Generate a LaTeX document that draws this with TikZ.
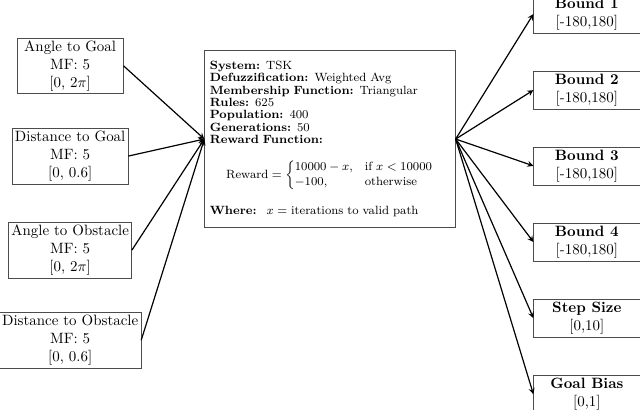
\documentclass[tikz,border=0pt]{standalone}
\usepackage{fix-cm}
\usepackage{amsmath}
\usepackage{tikz}
\usetikzlibrary{arrows}

\begin{document}
\begin{tikzpicture}[
    inbox/.style={draw=black!70, align=center, inner sep=1.8pt, minimum width=2.5cm},
    outbox/.style={draw=black!70, align=center, minimum width=2.5cm, inner sep=2pt},
    link/.style={->, >=stealth, thick}]
    \useasboundingbox (0,0) rectangle (15.05,-9.64);
    % inputs
    \node[inbox] (in1) at (1.65,-1.55) {Angle to Goal\\MF: 5\\{[0, 2$\pi$]}};
    \node[inbox] (in2) at (1.65,-3.67) {Distance to Goal\\MF: 5\\{[0, 0.6]}};
    \node[inbox] (in3) at (1.65,-5.88) {Angle to Obstacle\\MF: 5\\{[0, 2$\pi$]}};
    \node[inbox] (in4) at (1.65,-8.0) {Distance to Obstacle\\MF: 5\\{[0, 0.6]}};
    % system
    \node[draw=black!70, text width=5.65cm, font=\fontsize{8}{8.3}\selectfont, inner xsep=3.5pt, inner ysep=7pt] (sys) at (7.76,-3.27) {
        \textbf{System:} TSK\\
        \textbf{Defuzzification:} Weighted Avg\\
        \textbf{Membership Function:} Triangular\\
        \textbf{Rules:} 625\\
        \textbf{Population:} 400\\
        \textbf{Generations:} 50\\
        \textbf{Reward Function:}
        \[ \text{Reward} = \begin{cases} 10000 - x, & \text{if } x < 10000\\ -100, & \text{otherwise} \end{cases} \]
        \textbf{Where:}~ $x =$ iterations to valid path};
    % outputs
    \node[outbox] (out1) at (13.8,-0.33) {\textbf{Bound 1}\\{[-180,180]}};
    \node[outbox] (out2) at (13.8,-2.12) {\textbf{Bound 2}\\{[-180,180]}};
    \node[outbox] (out3) at (13.8,-3.90) {\textbf{Bound 3}\\{[-180,180]}};
    \node[outbox] (out4) at (13.8,-5.69) {\textbf{Bound 4}\\{[-180,180]}};
    \node[outbox] (out5) at (13.8,-7.48) {\textbf{Step Size}\\{[0,10]}};
    \node[outbox] (out6) at (13.8,-9.27) {\textbf{Goal Bias}\\{[0,1]}};
    \foreach \i in {1,...,4}
        \draw[link] (in\i.east) -- (sys.west);
    \foreach \i in {1,...,6}
        \draw[link] (sys.east) -- (out\i.west);
\end{tikzpicture}
\end{document}
